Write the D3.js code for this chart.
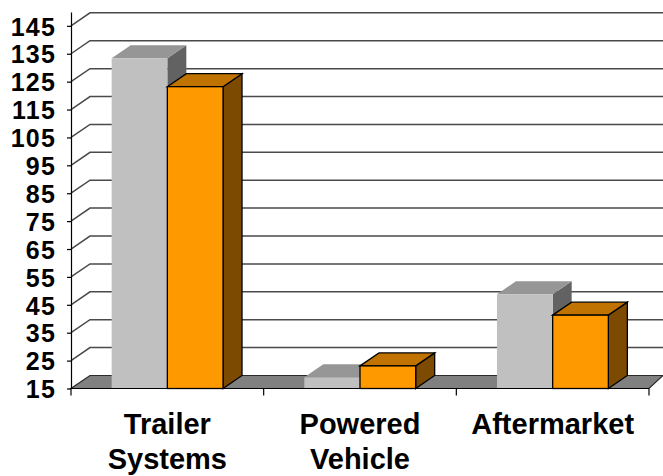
<!DOCTYPE html>
<html>
<head>
<meta charset="utf-8">
<script src="https://cdn.jsdelivr.net/npm/d3@7"></script>
<style>
  html, body { margin: 0; padding: 0; background: #fff; }
  svg { display: block; }
  text { font-family: "Liberation Sans", Arial, Helvetica, sans-serif; font-weight: bold; fill: #000; }
</style>
</head>
<body>
<svg id="chart" width="663" height="476"></svg>
<script>
// Segment sales, two periods per segment
const categories = [["Trailer", "Systems"], ["Powered", "Vehicle"], ["Aftermarket"]];
const seriesPrior = [133.4, 19.0, 48.8];
const seriesCurrent = [123.2, 23.1, 41.3];
const tickValues = [15, 25, 35, 45, 55, 65, 75, 85, 95, 105, 115, 125, 135, 145];

const W = 663, H = 476;
const svg = d3.select("#chart");

// plot frame and 3-D depth offset
const left = 71, right = 649, floorY = 388.5, topY = 11.9;
const DX = 19, DY = 13;

const y = d3.scaleLinear().domain([15, 150]).range([floorY, topY]);
const x = d3.scaleBand().domain(d3.range(categories.length)).range([left, right]).padding(0);
const bw = x.bandwidth();
const barW = bw * 0.289;
const xs = d3.scaleBand().domain([0, 1]).range([(bw - 2 * barW) / 2, (bw + 2 * barW) / 2]).padding(0);

const gridColor = "#4a4a4a";

// wall gridlines: slanted on the side wall, flat on the back wall
const grid = svg.append("g");
tickValues.slice(1).forEach(v => {
  const yy = y(v);
  grid.append("path")
    .attr("d", `M${left},${yy}L${left + DX},${yy - DY}L${W},${yy - DY}`)
    .attr("fill", "none").attr("stroke", gridColor).attr("stroke-width", 1.5);
});

// floor
svg.append("path")
  .attr("d", `M${left},${floorY}L${right},${floorY}L${W},${floorY - DY}L${left + DX},${floorY - DY}Z`)
  .attr("fill", "#808080").attr("stroke", "#2a2a2a").attr("stroke-width", 1.2);

// bars as boxes: front, top and side faces
const styles = [
  { front: "#c0c0c0", top: "#969696", side: "#626262", stroke: "none" },
  { front: "#ff9900", top: "#c07300", side: "#7c4a00", stroke: "#000" }
];
const bars = svg.append("g");
categories.forEach((c, i) => {
  [seriesPrior[i], seriesCurrent[i]].forEach((v, s) => {
    const st = styles[s];
    const x0 = x(i) + xs(s), x1 = x0 + xs.bandwidth();
    const y0 = y(v), yb = y(15);
    const g = bars.append("g")
      .attr("stroke", st.stroke).attr("stroke-width", 1.3).attr("stroke-linejoin", "miter");
    g.append("path")
      .attr("d", `M${x1},${y0}L${x1 + DX},${y0 - DY}L${x1 + DX},${yb - DY}L${x1},${yb}Z`)
      .attr("fill", st.side);
    g.append("path")
      .attr("d", `M${x0},${y0}L${x0 + DX},${y0 - DY}L${x1 + DX},${y0 - DY}L${x1},${y0}Z`)
      .attr("fill", st.top);
    g.append("rect")
      .attr("x", x0).attr("y", y0).attr("width", x1 - x0).attr("height", yb - y0)
      .attr("fill", st.front);
  });
});

// value axis
const yAxis = svg.append("g")
  .attr("transform", `translate(${left},0)`)
  .call(d3.axisLeft(y).tickValues(tickValues).tickSize(4).tickSizeOuter(0).tickPadding(11));
yAxis.select(".domain").attr("stroke", "#000").attr("stroke-width", 1.2);
yAxis.selectAll(".tick line").attr("stroke", "#000").attr("stroke-width", 1.2);
yAxis.selectAll(".tick text")
  .attr("font-size", 25).attr("font-family", null).attr("fill", "#000")
  .attr("letter-spacing", "1.2px")
  .attr("dy", "0.37em");

// category axis: baseline with ticks between categories
const xAxis = svg.append("g");
xAxis.append("line").attr("x1", left).attr("x2", right).attr("y1", floorY).attr("y2", floorY)
  .attr("stroke", "#000").attr("stroke-width", 1.2);
const boundaries = categories.map((c, i) => x(i)).concat([right]);
boundaries.forEach(bx => {
  xAxis.append("line").attr("x1", bx).attr("x2", bx).attr("y1", floorY).attr("y2", floorY + 7)
    .attr("stroke", "#000").attr("stroke-width", 1.2);
});
categories.forEach((lines, i) => {
  const t = xAxis.append("text")
    .attr("text-anchor", "middle").attr("font-size", 29)
    .attr("x", x(i) + bw / 2).attr("y", 433.5);
  lines.forEach((ln, k) => {
    t.append("tspan").attr("x", x(i) + bw / 2).attr("dy", k === 0 ? 0 : 35).text(ln);
  });
});
</script>
</body>
</html>
